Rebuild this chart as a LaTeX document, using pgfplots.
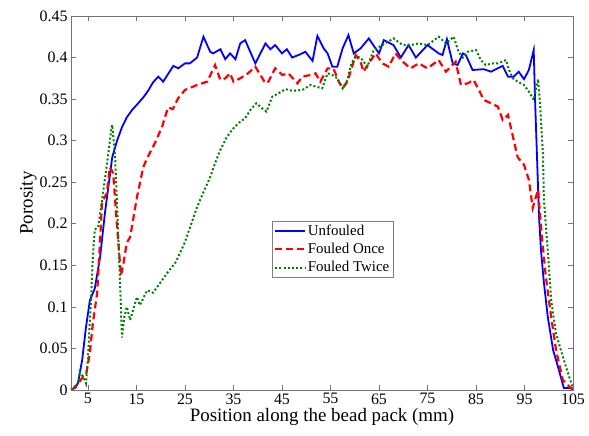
\documentclass[border=0pt]{standalone}
\usepackage{pgfplots}
\pgfplotsset{compat=1.18}
\usepackage{fontspec}
\setmainfont{Liberation Serif}
\definecolor{mblue}{rgb}{0,0,1}
\definecolor{mred}{rgb}{1,0,0}
\definecolor{mgreen}{rgb}{0,0.5,0}
\begin{document}
\begin{tikzpicture}
\begin{axis}[
  name=ax,
  width=502bp, height=374bp, scale only axis,
  xmin=1.5, xmax=105, ymin=0, ymax=0.45,
  xtick={5,15,...,105},
  ytick={0,0.05,...,0.46},
  tick align=inside,
  major tick length=5bp,
  axis line style={black!55, line width=0.6pt},
  tick style={black!55, line width=0.6pt},
  /pgf/number format/assume math mode=true,
  /pgf/number format/fixed,
  /pgf/number format/precision=2,
  xticklabel={\pgfmathprintnumber[assume math mode=true]{\tick}},
  yticklabel={\pgfmathprintnumber[assume math mode=true,fixed,precision=2]{\tick}},
  ticklabel style={font=\rmfamily\fontsize{16}{18}\selectfont, text=black},
  xlabel={Position along the bead pack (mm)},
  ylabel={Porosity},
  label style={font=\rmfamily\fontsize{19}{22}\selectfont},
  xlabel style={yshift=3bp},
  ylabel style={yshift=-4bp},
  legend image code/.code={\draw[#1] (0bp,0bp) -- (30bp,0bp);},
  legend style={at={(0.4,0.452)}, anchor=north west, draw=black!50, line width=0.6pt,
    font=\rmfamily\fontsize{15}{17}\selectfont, inner sep=2bp, row sep=3.5bp,
    nodes={inner sep=1.5bp}},
  legend cell align=left,
]
\addplot[mblue, line width=1.8bp] coordinates {
(1.5,0) (2.5,0.003) (3,0.01) (3.8,0.036) (4.6,0.076) (5.4,0.108) (6.4,0.122)
(7.5,0.16) (8.5,0.213) (10,0.28) (11,0.30) (12,0.316) (13,0.328) (14.1,0.337)
(15.2,0.344) (16.4,0.352) (17.4,0.36) (18.4,0.37) (19.5,0.377) (20.5,0.371)
(21.5,0.38) (22.6,0.39) (23.6,0.387) (25,0.393) (26,0.393) (27.5,0.40)
(28.8,0.425) (30.2,0.407) (30.8,0.405) (32.3,0.41) (33.3,0.398) (34.3,0.405)
(35.4,0.398) (36.4,0.417) (37.4,0.421) (39.5,0.393) (41.6,0.417) (42.6,0.41)
(43.6,0.415) (45,0.405) (46,0.41) (47.1,0.40) (48.8,0.404) (49.8,0.407)
(51.3,0.396) (52.3,0.426) (53.6,0.411) (54.4,0.405) (55.4,0.389) (56.4,0.389)
(57.5,0.411) (58.7,0.427) (59.8,0.405) (61.2,0.411) (62.9,0.423) (65,0.405)
(66,0.421) (68,0.415) (69.5,0.40) (71.1,0.415) (72.6,0.40) (75,0.415)
(77.3,0.405) (78.1,0.403) (79,0.422) (80.2,0.393) (81.2,0.391) (82.3,0.405)
(82.9,0.403) (84.3,0.385) (86.6,0.386) (88.1,0.383) (90.5,0.39) (91.6,0.377)
(92.8,0.377) (93.8,0.383) (94.9,0.374) (95.9,0.385) (96.9,0.409) (97.2,0.345)
(97.6,0.277) (98,0.208) (98.4,0.168) (99,0.129) (99.8,0.088) (100.9,0.048)
(101.9,0.028) (103.1,0.0025) (105,0.002)
};
\addlegendentry{Unfouled}
\addplot[mred, line width=2.2bp, dash pattern=on 7bp off 4bp] coordinates {
(1.7,0) (3,0.008) (4,0.016) (4.6,0.018) (5.4,0.045) (6,0.08) (6.9,0.117)
(7.5,0.18) (7.9,0.226) (8.9,0.237) (9.5,0.268) (10.2,0.261) (11,0.196)
(11.8,0.138) (12.2,0.148) (13,0.177) (13.7,0.184) (15.1,0.232) (16.4,0.268)
(17.2,0.279) (18.8,0.297) (20.3,0.317) (21.5,0.34) (22.5,0.338) (23.6,0.351)
(25,0.361) (27.5,0.367) (29.6,0.371) (31.2,0.391) (32.3,0.373) (33.3,0.375)
(34.3,0.381) (35,0.371) (36.4,0.375) (38,0.381) (39.5,0.389) (41.6,0.369)
(42.2,0.371) (43.6,0.387) (45.1,0.379) (46.3,0.381) (48.2,0.369) (49.2,0.377)
(50.9,0.379) (51.9,0.381) (52.9,0.371) (54.4,0.387) (55.6,0.387) (56.7,0.371)
(57.5,0.363) (58.5,0.371) (60.2,0.403) (61.2,0.395) (61.8,0.383) (62.9,0.393)
(64.3,0.405) (65.7,0.393) (67,0.389) (68.4,0.405) (69.9,0.395) (71.5,0.387)
(73.2,0.393) (75,0.387) (77.3,0.397) (78.8,0.383) (80.8,0.395) (81.9,0.367)
(83.3,0.369) (84.5,0.373) (85.6,0.361) (86.6,0.349) (88.1,0.345) (89.5,0.341)
(90.5,0.325) (91.6,0.331) (92.8,0.30) (93.6,0.28) (94.9,0.271) (95.9,0.253)
(96.7,0.219) (97.8,0.241) (98.4,0.196) (99.4,0.136) (100.5,0.088) (101.5,0.048)
(102.9,0.012) (104.6,0.002) (105,0)
};
\addlegendentry{Fouled Once}
\addplot[mgreen, line width=2bp, dash pattern=on 2bp off 2.2bp] coordinates {
(1.5,0) (3,0.008) (3.3,0.022) (4,0.016) (4.6,0.008) (5,0.04) (5.6,0.105)
(6,0.16) (6.4,0.193) (7.1,0.196) (8.1,0.237) (9.1,0.28) (9.8,0.313) (10,0.319)
(10.6,0.28) (11.2,0.193) (11.6,0.132) (12,0.063) (12.5,0.088) (13,0.1)
(13.7,0.084) (14.3,0.096) (15.1,0.112) (15.7,0.102) (17.2,0.12) (18.4,0.117)
(19.9,0.129) (21.5,0.142) (23,0.153) (24,0.165) (25,0.178) (26,0.195)
(27.5,0.22) (28.8,0.238) (30.2,0.256) (31.2,0.273) (32.3,0.289) (33.5,0.303)
(34.7,0.313) (36,0.321) (37.4,0.327) (38.5,0.337) (39.7,0.345) (40.9,0.339)
(41.8,0.335) (43,0.353) (44.3,0.357) (45.7,0.362) (47.1,0.36) (49.2,0.361)
(50.9,0.367) (52,0.365) (53.3,0.363) (54.4,0.381) (55.4,0.379) (56.4,0.375)
(57.5,0.363) (58.5,0.373) (59.3,0.393) (60.2,0.401) (61.2,0.40) (62.6,0.389)
(63.9,0.409) (65.7,0.415) (68,0.423) (69.9,0.415) (71.5,0.415) (73.2,0.417)
(75,0.415) (77.3,0.425) (78.8,0.417) (80.4,0.425) (81.4,0.407) (82.3,0.40)
(83.3,0.407) (85,0.409) (86,0.397) (87,0.391) (88.5,0.393) (89.5,0.393)
(91.2,0.397) (91.8,0.385) (92.6,0.375) (93.6,0.371) (94.9,0.367) (95.9,0.359)
(96.9,0.349) (97.8,0.374) (98.2,0.345) (98.8,0.285) (99,0.229) (99.8,0.168)
(100.5,0.108) (101.5,0.068) (102.9,0.04) (104.2,0.016) (105,0.002)
};
\addlegendentry{Fouled Twice}
\end{axis}
\pgfresetboundingbox
\path[use as bounding box] ([shift={(-71bp,-46bp)}]ax.south west) rectangle ([shift={(16bp,16bp)}]ax.north east);
\end{tikzpicture}
\end{document}
